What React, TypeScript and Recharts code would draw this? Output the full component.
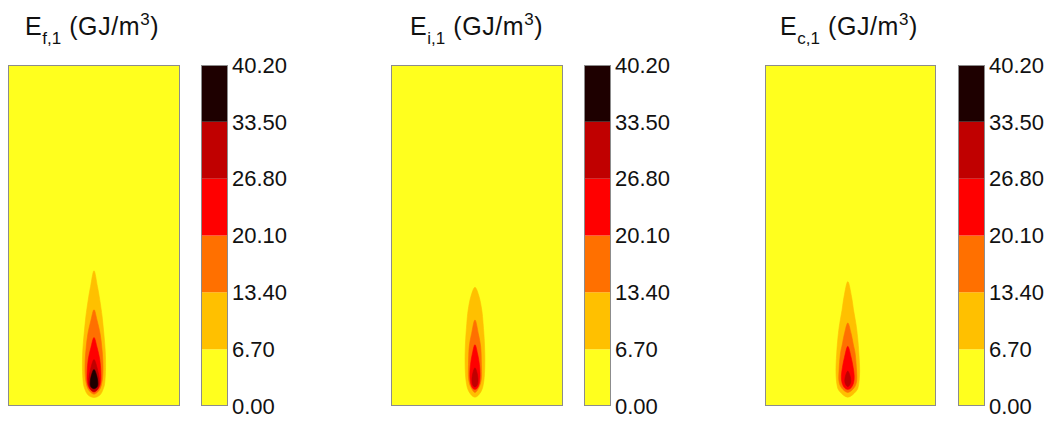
import React from 'react';
import { ScatterChart, Scatter, XAxis, YAxis, BarChart, Bar } from 'recharts';

// contour levels of the energy density (GJ/m3)
const levels = [0, 6.7, 13.4, 20.1, 26.8, 33.5, 40.2];
const COLORS = ['#ffff1e', '#ffc000', '#ff7000', '#ff0000', '#c00000', '#1e0000'];

// contour outlines: [height (cm), half width (cm)] from tip to base, one list per level
const efCenter = 25.0;
const efContours = [
  [[39.6, 0], [35, 1.0], [31, 1.7], [26, 2.4], [21, 2.9], [16, 3.3], [11, 3.4], [7, 3.2], [5, 2.8], [3, 1.8], [2.2, 0]],
  [[28.1, 0], [25, 0.9], [21, 1.8], [17, 2.3], [13, 2.6], [9, 2.6], [6, 2.2], [4.2, 1.4], [3.2, 0]],
  [[19.9, 0], [17, 0.9], [13.4, 1.7], [10, 2.0], [7, 2.0], [5, 1.4], [3.8, 0]],
  [[13.4, 0], [11, 0.9], [8, 1.5], [6, 1.5], [4.5, 0.9], [4.0, 0]],
  [[10.5, 0], [9, 0.7], [7, 1.1], [5.5, 1.0], [4.8, 0]],
];

const eiCenter = 24.4;
const eiContours = [
  [[34.7, 0], [32, 1.2], [28, 2.0], [24, 2.4], [18, 2.8], [12, 2.9], [7, 2.6], [4, 1.8], [2.3, 0]],
  [[25.1, 0], [21, 1.0], [17, 1.7], [12, 1.9], [8, 1.9], [5.5, 1.3], [3.7, 0]],
  [[17.8, 0], [15, 0.8], [12, 1.3], [9, 1.5], [6.5, 1.3], [5, 0.7], [4.6, 0]],
  [[11, 0], [9.5, 0.6], [7.5, 0.9], [6, 0.7], [5.3, 0]],
];

const ecCenter = 24.2;
const ecContours = [
  [[36.4, 0], [32, 1.1], [28, 1.7], [24, 2.4], [20, 2.9], [15, 3.3], [10, 3.5], [6, 3.2], [4, 2.4], [2.3, 0]],
  [[24.2, 0], [21, 1.0], [18, 1.6], [15, 2.2], [10, 2.6], [7, 2.6], [5, 1.8], [3.7, 0]],
  [[17.3, 0], [14, 1.0], [11, 1.6], [8.5, 1.9], [6.5, 1.7], [5, 0.9], [4.6, 0]],
  [[10, 0], [8.5, 0.7], [7, 0.9], [6, 0.6], [5.4, 0]],
];

const FONT = '"Liberation Sans", Arial, sans-serif';

function outline(center: number, profile: number[][]) {
  const right = profile.map(([y, hw]) => ({ x: center + hw, y }));
  const left = profile.slice(1, -1).reverse().map(([y, hw]) => ({ x: center - hw, y }));
  return [...right, ...left];
}

// closed catmull-rom through the scaled points
function smoothPath(pts: { x: number; y: number }[]) {
  const n = pts.length;
  if (n < 3) return '';
  let d = `M${pts[0].x},${pts[0].y}`;
  for (let i = 0; i < n; i++) {
    const p0 = pts[(i - 1 + n) % n], p1 = pts[i], p2 = pts[(i + 1) % n], p3 = pts[(i + 2) % n];
    const c1x = p1.x + (p2.x - p0.x) / 6, c1y = p1.y + (p2.y - p0.y) / 6;
    const c2x = p2.x - (p3.x - p1.x) / 6, c2y = p2.y - (p3.y - p1.y) / 6;
    d += ` C${c1x},${c1y} ${c2x},${c2y} ${p2.x},${p2.y}`;
  }
  return d + 'Z';
}

function Field({ left, width, center, contours }: { left: number; width: number; center: number; contours: number[][][] }) {
  return (
    <div style={{ position: 'absolute', left, top: 65, width, height: 341, background: COLORS[0], boxShadow: 'inset 0 0 0 1px #8c8c8c' }}>
      <ScatterChart width={width} height={341} margin={{ top: 1, right: 1, bottom: 1, left: 1 }}>
        <XAxis type="number" dataKey="x" domain={[0, 50]} hide allowDataOverflow />
        <YAxis type="number" dataKey="y" domain={[0, 100]} hide allowDataOverflow />
        {contours.map((c, i) => (
          <Scatter
            key={i}
            data={outline(center, c)}
            isAnimationActive={false}
            shape={() => <g />}
            line={(p: any) => (
              <path d={smoothPath(p.points)} fill={COLORS[i + 1]} stroke={COLORS[i + 1]} strokeWidth={0.6} style={{ filter: 'blur(0.6px)' }} />
            )}
          />
        ))}
      </ScatterChart>
    </div>
  );
}

const barRow = [
  levels.slice(1).reduce((row, v, i) => ({ ...row, [`s${i}`]: v - levels[i] }), { name: 'bar' } as Record<string, unknown>),
];

function ColorBar({ left }: { left: number }) {
  return (
    <>
      <div style={{ position: 'absolute', left, top: 49 }}>
        <BarChart width={100} height={373} data={barRow} margin={{ top: 16, right: 0, bottom: 16, left: 0 }} barCategoryGap={0}>
          <XAxis dataKey="name" hide />
          <YAxis
            orientation="right"
            type="number"
            domain={[0, 40.2]}
            ticks={levels}
            interval={0}
            width={73}
            axisLine={false}
            tickLine={false}
            tickSize={0}
            tickMargin={4}
            tickFormatter={(v: number) => v.toFixed(2)}
            tick={{ fontSize: 22, fill: '#111', fontFamily: FONT }}
          />
          {COLORS.map((c, i) => (
            <Bar key={i} dataKey={`s${i}`} stackId="a" fill={c} isAnimationActive={false} />
          ))}
        </BarChart>
      </div>
      <div style={{ position: 'absolute', left, top: 65, width: 27, height: 341, boxShadow: 'inset 0 0 0 1px #8c8c8c', pointerEvents: 'none' }} />
    </>
  );
}

function Title({ left, sub }: { left: number; sub: string }) {
  return (
    <div style={{ position: 'absolute', left, top: 14, fontFamily: FONT, fontSize: 25, letterSpacing: 0.6, lineHeight: 1, color: '#111', whiteSpace: 'nowrap' }}>
      E<span style={{ fontSize: 17, letterSpacing: 0, position: 'relative', top: 9 }}>{sub}</span>
      <span style={{ marginLeft: 8 }}>(GJ/m</span>
      <span style={{ fontSize: 17, position: 'relative', top: -10 }}>3</span>)
    </div>
  );
}

export default function App() {
  return (
    <div style={{ position: 'relative', width: 1051, height: 421, background: '#fff', overflow: 'hidden' }}>
      <style>{'body{margin:0}'}</style>
      <Title left={25} sub="f,1" />
      <Title left={410} sub="i,1" />
      <Title left={780} sub="c,1" />
      <Field left={8} width={172} center={efCenter} contours={efContours} />
      <Field left={391} width={172} center={eiCenter} contours={eiContours} />
      <Field left={765} width={171} center={ecCenter} contours={ecContours} />
      <ColorBar left={201} />
      <ColorBar left={584} />
      <ColorBar left={958} />
    </div>
  );
}
